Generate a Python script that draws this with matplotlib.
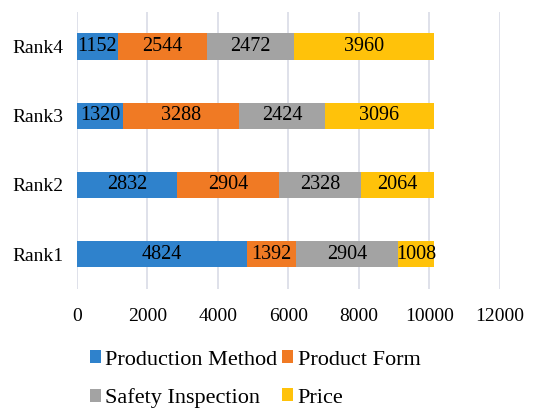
import numpy as np
import matplotlib.pyplot as plt
from matplotlib.patches import Patch

plt.rcParams['font.family'] = ['Liberation Serif', 'DejaVu Serif']

ranks = ['Rank1', 'Rank2', 'Rank3', 'Rank4']
production_method = [4824, 2832, 1320, 1152]
product_form = [1392, 2904, 3288, 2544]
safety_inspection = [2904, 2328, 2424, 2472]
price = [1008, 2064, 3096, 3960]

series = [('Production Method', production_method, '#2F82CC'),
          ('Product Form', product_form, '#F07A24'),
          ('Safety Inspection', safety_inspection, '#A3A3A3'),
          ('Price', price, '#FFC20A')]

fig = plt.figure(figsize=(5.38, 4.08), dpi=100)
ax = fig.add_axes([0.143, 0.292, 0.786, 0.679])

y = np.arange(len(ranks))
left = np.zeros(len(ranks))
handles = []
for name, vals, col in series:
    vals = np.array(vals)
    bars = ax.barh(y, vals, left=left, height=0.38, color=col, zorder=3)
    for b, v in zip(bars, vals):
        ax.text(b.get_x() + b.get_width() / 2, b.get_y() + b.get_height() / 2,
                str(v), ha='center', va='center', fontsize=14.5, zorder=4)
    left = left + vals
    handles.append(Patch(facecolor=col, label=name))

ax.set_xlim(0, 12000)
ax.set_ylim(-0.5, 3.5)
ax.set_xticks(np.arange(0, 12001, 2000))
ax.set_yticks(y)
ax.set_yticklabels(ranks)
ax.tick_params(length=0, labelsize=14, pad=10)
ax.tick_params(axis='x', pad=14)
ax.grid(axis='x', color='#D9DCE6', linewidth=1.2, zorder=0)
for s in ax.spines.values():
    s.set_visible(False)

# two rows: Production Method / Product Form, then Safety Inspection / Price
order = [0, 2, 1, 3]
fig.legend([handles[i] for i in order], [series[i][0] for i in order],
           ncol=2, loc='lower left', bbox_to_anchor=(0.13, -0.05),
           frameon=False, prop={'family': 'Liberation Serif', 'size': 16},
           handlelength=0.5, handleheight=0.5,
           handletextpad=0.2, columnspacing=0.2, labelspacing=0.85)

fig.savefig('out.png', dpi=100)
